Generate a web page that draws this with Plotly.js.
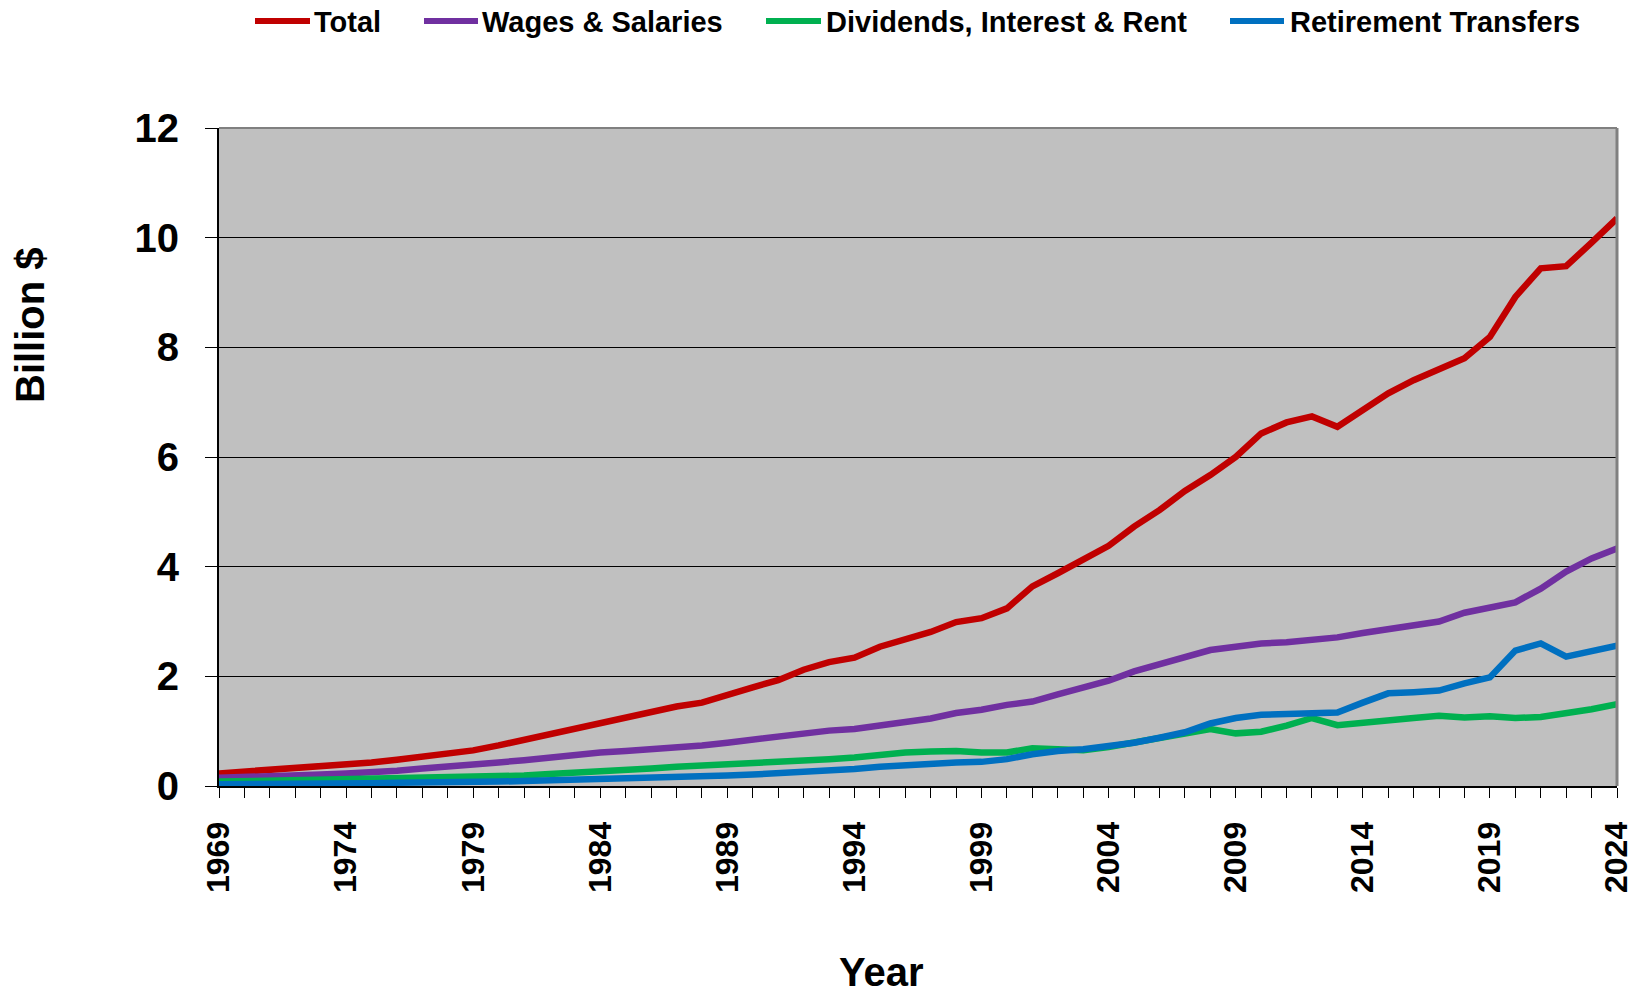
<!DOCTYPE html>
<html>
<head>
<meta charset="utf-8">
<script src="https://cdn.plot.ly/plotly-3.0.1.min.js"></script>
<style>
  html, body { margin: 0; padding: 0; background: #ffffff; }
  #chart { width: 1648px; height: 995px; }
</style>
</head>
<body>
<div id="chart"></div>
<script>
// ---- Data (billion $) ----
const years = [1969,1970,1971,1972,1973,1974,1975,1976,1977,1978,1979,1980,1981,1982,1983,1984,1985,1986,1987,1988,1989,1990,1991,1992,1993,1994,1995,1996,1997,1998,1999,2000,2001,2002,2003,2004,2005,2006,2007,2008,2009,2010,2011,2012,2013,2014,2015,2016,2017,2018,2019,2020,2021,2022,2023,2024];

const total = [0.23,0.26,0.29,0.32,0.35,0.39,0.43,0.48,0.54,0.60,0.65,0.74,0.84,0.94,1.05,1.15,1.26,1.36,1.45,1.52,1.67,1.80,1.93,2.12,2.26,2.34,2.54,2.66,2.81,2.99,3.06,3.24,3.64,3.88,4.12,4.38,4.73,5.03,5.38,5.67,6.00,6.43,6.63,6.74,6.55,6.86,7.16,7.40,7.59,7.80,8.19,8.92,9.44,9.48,9.91,10.35];

const wages = [0.15,0.16,0.18,0.19,0.21,0.23,0.25,0.28,0.32,0.35,0.39,0.43,0.47,0.52,0.57,0.61,0.64,0.67,0.71,0.74,0.79,0.85,0.90,0.96,1.01,1.04,1.11,1.16,1.23,1.33,1.39,1.48,1.54,1.67,1.79,1.92,2.09,2.21,2.33,2.48,2.54,2.60,2.62,2.66,2.71,2.79,2.87,2.94,3.00,3.16,3.27,3.35,3.60,3.91,4.15,4.33];

const dividends = [0.08,0.09,0.09,0.10,0.10,0.11,0.11,0.12,0.13,0.14,0.16,0.18,0.19,0.22,0.24,0.27,0.30,0.32,0.35,0.37,0.41,0.41,0.43,0.46,0.49,0.52,0.57,0.61,0.63,0.64,0.61,0.61,0.69,0.66,0.65,0.71,0.79,0.87,0.96,1.04,0.96,0.99,1.10,1.24,1.11,1.16,1.19,1.24,1.28,1.25,1.27,1.24,1.26,1.32,1.40,1.49];

const retirement = [0.03,0.03,0.03,0.04,0.04,0.05,0.05,0.06,0.06,0.07,0.07,0.08,0.09,0.10,0.11,0.12,0.13,0.14,0.15,0.17,0.19,0.21,0.23,0.26,0.29,0.31,0.35,0.38,0.40,0.43,0.44,0.49,0.58,0.64,0.67,0.73,0.79,0.88,0.98,1.14,1.24,1.30,1.32,1.32,1.34,1.52,1.69,1.71,1.74,1.87,1.98,2.47,2.60,2.36,2.45,2.56];

const seriesNames = ["Total", "Wages & Salaries", "Dividends, Interest & Rent", "Retirement Transfers"];
const seriesValues = [total, wages, dividends, retirement];
const seriesColors = ["#C00000", "#7030A0", "#00B050", "#0070C0"];

const xTitle = "Year";
const yTitle = "Billion $";

// ---- Layout constants (pixels) ----
const W = 1648, H = 995;
const M = { l: 219, r: 31, t: 128, b: 209 };
const PW = W - M.l - M.r, PH = H - M.t - M.b;
const px2x = p => (p - M.l) / PW;
const py2y = p => (H - M.b - p) / PH;

const FONT = "Liberation Sans, Arial, Helvetica, sans-serif";
const NARROW = "Liberation Sans Narrow, Arial Narrow, Liberation Sans, sans-serif";

const traces = seriesNames.map((name, i) => ({
  type: "scatter",
  mode: "lines",
  name: name,
  x: years,
  y: seriesValues[i],
  line: { color: seriesColors[i], width: 6.5 },
  showlegend: false,
  hoverinfo: "x+y+name"
}));

// manual legend (line sample + label), positioned like the reference
const legendPos = [
  { l0: 255, l1: 310, tx: 313 },
  { l0: 424, l1: 478, tx: 481 },
  { l0: 766, l1: 821, tx: 825 },
  { l0: 1230, l1: 1284, tx: 1289 }
];
const legendY = 21;

const shapes = [];
const annotations = [];
legendPos.forEach((p, i) => {
  shapes.push({
    type: "line", xref: "paper", yref: "paper",
    x0: px2x(p.l0), x1: px2x(p.l1), y0: py2y(legendY), y1: py2y(legendY),
    line: { color: seriesColors[i], width: 6 }
  });
  annotations.push({
    xref: "paper", yref: "paper", x: px2x(p.tx), y: py2y(legendY + 1),
    xanchor: "left", yanchor: "middle", showarrow: false,
    text: seriesNames[i],
    font: { family: FONT, size: 29, color: "#000000", weight: "bold" },
    borderpad: 0
  });
});

// plot-area border on top and right (grey)
shapes.push({ type: "line", xref: "paper", yref: "paper", x0: 0, x1: 1, y0: 1, y1: 1, line: { color: "#808080", width: 2 } });
shapes.push({ type: "line", xref: "paper", yref: "paper", x0: 1, x1: 1, y0: 0, y1: 1, line: { color: "#808080", width: 3 } });

// axis titles
annotations.push({
  xref: "paper", yref: "paper", x: px2x(30), y: py2y(325),
  xanchor: "center", yanchor: "middle", showarrow: false, textangle: -90,
  text: yTitle, font: { family: FONT, size: 40, color: "#000000", weight: "bold" }
});
annotations.push({
  xref: "paper", yref: "paper", x: px2x(881), y: py2y(972),
  xanchor: "center", yanchor: "middle", showarrow: false,
  text: xTitle, font: { family: FONT, size: 40, color: "#000000", weight: "bold" },
  borderpad: 0
});

const layout = {
  width: W, height: H,
  margin: M,
  paper_bgcolor: "#ffffff",
  plot_bgcolor: "#C0C0C0",
  showlegend: false,
  font: { family: FONT, color: "#000000" },
  xaxis: {
    range: [1969, 2024],
    tickmode: "linear", tick0: 1969, dtick: 5,
    tickangle: -90,
    ticks: "outside", ticklen: 10, tickwidth: 1, tickcolor: "#000000",
    minor: { tickmode: "linear", tick0: 1969, dtick: 1, ticks: "outside", ticklen: 10, tickwidth: 1, tickcolor: "#000000", showgrid: false },
    showgrid: false, zeroline: false,
    showline: true, linecolor: "#000000", linewidth: 2,
    tickfont: { family: NARROW, size: 32, color: "#000000", weight: "bold" },
    ticklabelstandoff: 11,
    fixedrange: true
  },
  yaxis: {
    range: [0, 12],
    tickmode: "linear", tick0: 0, dtick: 2,
    ticks: "outside", ticklen: 12, tickwidth: 1, tickcolor: "#000000",
    showgrid: true, gridcolor: "#000000", gridwidth: 1,
    zeroline: false,
    showline: true, linecolor: "#000000", linewidth: 2,
    tickfont: { family: FONT, size: 40, color: "#000000", weight: "bold" },
    ticklabelstandoff: 18,
    fixedrange: true
  },
  shapes: shapes,
  annotations: annotations
};

Plotly.newPlot("chart", traces, layout, { displayModeBar: false, staticPlot: true });
</script>
</body>
</html>
